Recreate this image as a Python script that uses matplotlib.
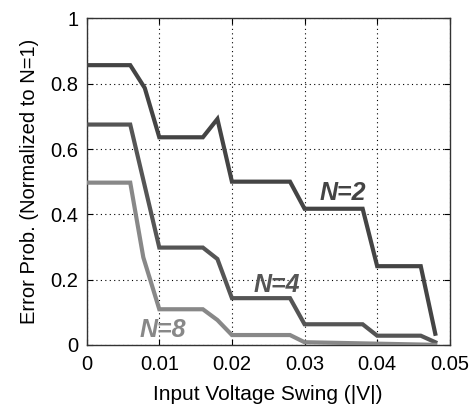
import matplotlib
matplotlib.use('Agg')
import matplotlib.pyplot as plt
from matplotlib.ticker import FixedLocator, FixedFormatter

# Values
n2_x = [0, 0.006, 0.008, 0.010, 0.016, 0.018, 0.020, 0.028, 0.030, 0.038, 0.040, 0.046, 0.048]
n2_y = [0.857, 0.857, 0.787, 0.636, 0.636, 0.692, 0.500, 0.500, 0.417, 0.417, 0.241, 0.241, 0.034]

n4_x = [0, 0.006, 0.010, 0.016, 0.018, 0.020, 0.028, 0.030, 0.038, 0.040, 0.046, 0.048]
n4_y = [0.675, 0.675, 0.298, 0.298, 0.263, 0.143, 0.143, 0.063, 0.063, 0.028, 0.028, 0.008]

n8_x = [0, 0.006, 0.0078, 0.010, 0.016, 0.018, 0.020, 0.028, 0.030, 0.048]
n8_y = [0.497, 0.497, 0.268, 0.109, 0.109, 0.076, 0.030, 0.030, 0.008, 0.0]

x_ticks = [0, 0.01, 0.02, 0.03, 0.04, 0.05]
x_labels = ['0', '0.01', '0.02', '0.03', '0.04', '0.05']
y_ticks = [0, 0.2, 0.4, 0.6, 0.8, 1.0]
y_labels = ['0', '0.2', '0.4', '0.6', '0.8', '1']

plt.rcParams['font.family'] = ['Liberation Sans', 'DejaVu Sans']

fig = plt.figure(figsize=(4.71, 4.11), dpi=100)
ax = fig.add_axes([0.184, 0.161, 0.771, 0.794])

ax.plot(n2_x, n2_y, color='#444444', lw=3.0, solid_joinstyle='miter', zorder=3)
ax.plot(n4_x, n4_y, color='#555555', lw=3.0, solid_joinstyle='miter', zorder=3)
ax.plot(n8_x, n8_y, color='#888888', lw=3.0, solid_joinstyle='miter', zorder=3)

lbl = dict(fontsize=18, fontweight='bold', fontstyle='italic', ha='center', va='center')
ax.text(0.0353, 0.464, 'N=2', color='#444444', **lbl)
ax.text(0.0262, 0.183, 'N=4', color='#555555', **lbl)
ax.text(0.0105, 0.045, 'N=8', color='#888888', **lbl)

ax.set_xlim(0, 0.05)
ax.set_ylim(0, 1)
ax.xaxis.set_major_locator(FixedLocator(x_ticks))
ax.xaxis.set_major_formatter(FixedFormatter(x_labels))
ax.yaxis.set_major_locator(FixedLocator(y_ticks))
ax.yaxis.set_major_formatter(FixedFormatter(y_labels))
ax.tick_params(direction='in', labelsize=14.5, length=4, top=True, right=True)
ax.tick_params(axis='x', pad=7)
ax.tick_params(axis='y', pad=6)
ax.grid(True, linestyle=(0, (1, 3)), color='black', linewidth=0.8)
for s in ax.spines.values():
    s.set_color('#333333')
    s.set_linewidth(1.0)

ax.set_xlabel('Input Voltage Swing (|V|)', fontsize=15, labelpad=8)
ax.set_ylabel('Error Prob. (Normalized to N=1)', fontsize=14.5, labelpad=8)

fig.savefig('out.png', dpi=100)
